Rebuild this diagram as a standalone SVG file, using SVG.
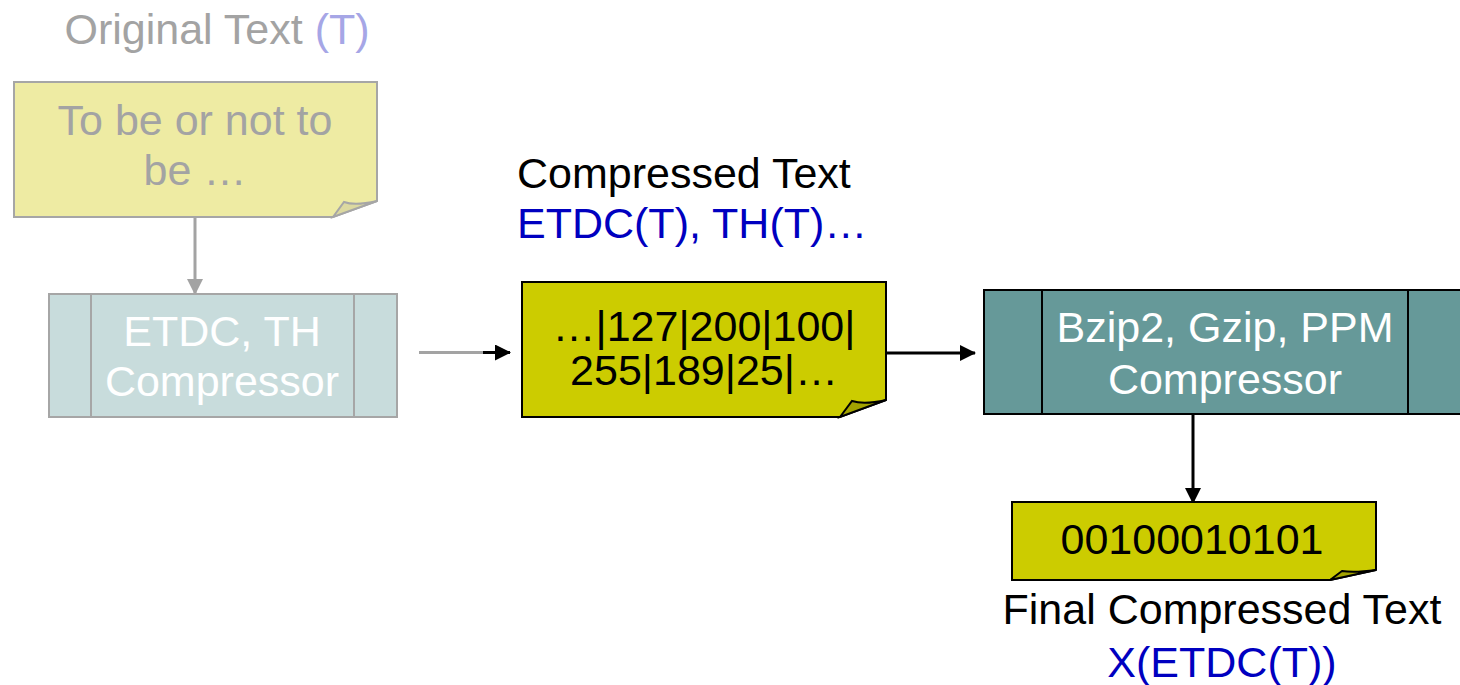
<svg xmlns="http://www.w3.org/2000/svg" width="1460" height="685" viewBox="0 0 1460 685">
<defs>
<style>
text{font-family:"Liberation Sans",Arial,sans-serif;font-size:43px}
.c{text-anchor:middle}
.g{fill:#a3a3a3}
.w{fill:#ffffff}
.k{fill:#000000}
.b{fill:#0000c0}
.lb{fill:#a6a6e6}
</style>
<marker id="ag" markerWidth="16" markerHeight="16" refX="15" refY="8" orient="auto" markerUnits="userSpaceOnUse"><path d="M0,0 L16,8 L0,16 Z" fill="#a3a3a3"/></marker>
<marker id="ak" markerWidth="16" markerHeight="16" refX="15" refY="8" orient="auto" markerUnits="userSpaceOnUse"><path d="M0,0 L16,8 L0,16 Z" fill="#000"/></marker>
</defs>
<rect width="1460" height="685" fill="#fff"/>
<g id="connectors">
<line x1="195" y1="217" x2="195" y2="294" stroke="#a3a3a3" stroke-width="3" marker-end="url(#ag)"/>
<line x1="419" y1="352.5" x2="484" y2="352.5" stroke="#a3a3a3" stroke-width="3"/>
<line x1="483" y1="352.5" x2="510" y2="352.5" stroke="#000" stroke-width="3" marker-end="url(#ak)"/>
<line x1="886" y1="353" x2="975" y2="353" stroke="#000" stroke-width="3" marker-end="url(#ak)"/>
<line x1="1193" y1="414" x2="1193" y2="503" stroke="#000" stroke-width="3" marker-end="url(#ak)"/>
</g>
<g id="label-original">
<text x="217" y="44" class="c"><tspan class="g">Original Text </tspan><tspan class="lb">(T)</tspan></text>
</g>
<g id="note-original">
<path d="M14,82 H377 V201 L333,217 H14 Z" fill="#eeeba3" stroke="#a6a6a6" stroke-width="2"/>
<path d="M333,217 L344,202 Q355,206 377,201 Z" fill="#dcd9a0" stroke="#a6a6a6" stroke-width="2"/>
<text x="195" y="135" class="c g">To be or not to</text>
<text x="195" y="185" class="c g">be …</text>
</g>
<g id="proc-etdc">
<rect x="49" y="294" width="348" height="123" fill="#c8dcdc" stroke="#a6a6a6" stroke-width="2"/>
<line x1="91" y1="294" x2="91" y2="417" stroke="#a6a6a6" stroke-width="2"/>
<line x1="354" y1="294" x2="354" y2="417" stroke="#a6a6a6" stroke-width="2"/>
<text x="222" y="346" class="c w">ETDC, TH</text>
<text x="222" y="396" class="c w">Compressor</text>
</g>
<g id="label-compressed">
<text x="517" y="188" class="k">Compressed Text</text>
<text x="517" y="238" class="b">ETDC(T), TH(T)…</text>
</g>
<g id="note-compressed">
<path d="M522,282 H886 V400 L840,417 H522 Z" fill="#cccc00" stroke="#000" stroke-width="2"/>
<path d="M840,417 L852,401 Q864,405 886,400 Z" fill="#a3a300" stroke="#000" stroke-width="2"/>
<text x="704" y="341" class="c k">…|127|200|100|</text>
<text x="704" y="385" class="c k">255|189|25|…</text>
</g>
<g id="proc-bzip">
<rect x="984" y="290" width="490" height="124" fill="#669999" stroke="#000" stroke-width="2"/>
<line x1="1042" y1="290" x2="1042" y2="414" stroke="#000" stroke-width="2"/>
<line x1="1408" y1="290" x2="1408" y2="414" stroke="#000" stroke-width="2"/>
<text x="1225" y="342" class="c w">Bzip2, Gzip, PPM</text>
<text x="1225" y="394" class="c w">Compressor</text>
</g>
<g id="note-final">
<path d="M1012,502 H1376 V570 L1330,580 H1012 Z" fill="#cccc00" stroke="#000" stroke-width="2"/>
<path d="M1330,580 L1342,571 Q1354,573 1376,570 Z" fill="#a3a300" stroke="#000" stroke-width="2"/>
<text x="1192" y="554" class="c k">00100010101</text>
</g>
<g id="label-final">
<text x="1222" y="624" class="c k">Final Compressed Text</text>
<text x="1222" y="677" class="c b">X(ETDC(T))</text>
</g>
</svg>
